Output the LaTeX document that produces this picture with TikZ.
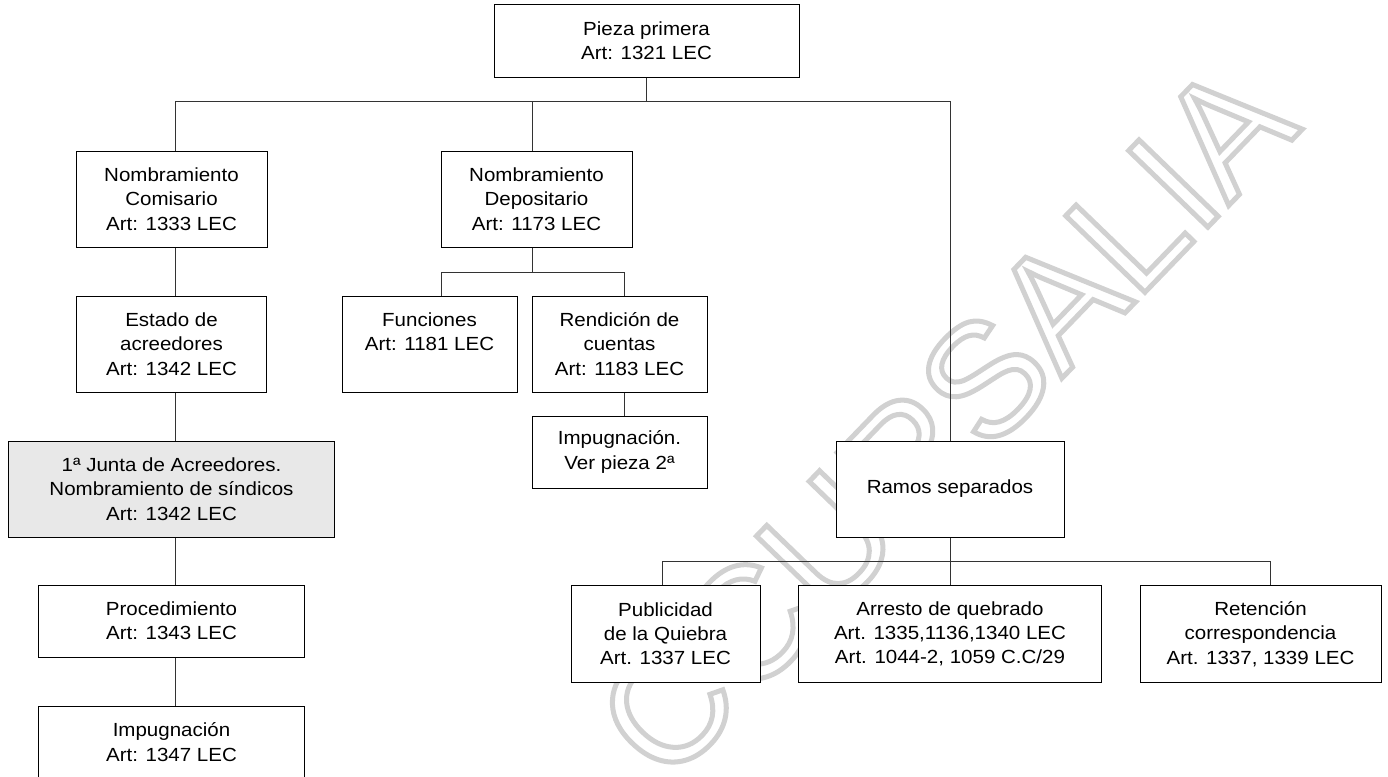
\documentclass[tikz,border=0pt]{standalone}
\usepackage{fontspec}
\setmainfont{Liberation Sans}[FakeStretch=1.08]
\newfontfamily\wmfont{Liberation Sans}
\newcommand\boxfont{\fontsize{19}{24.3}\selectfont}
\tikzset{
  box/.style={draw=black, line width=1pt, fill=white, align=center, inner sep=0pt, font=\boxfont, text=black},
  graybox/.style={box, fill=black!9},
  conn/.style={draw=black!80, line width=0.9pt},
  wm/.style={text=black!18, font=\wmfont\fontsize{160}{160}\selectfont, inner sep=0pt}
}
\begin{document}
\begin{tikzpicture}[x=1pt,y=-1pt]
\useasboundingbox (0,0) rectangle (1388,776);
% watermark
\node[wm, rotate=46] (wmark) at (945,420) {\special{pdf:literal direct 1 Tr 5 w}CCURSALIA\special{pdf:literal direct 0 Tr}};
% boxes
\node[box, minimum width=305pt, minimum height=72pt] (top) at (646.5,41) {Pieza primera\\Art: 1321 LEC};
\node[box, minimum width=191pt, minimum height=96pt] (com) at (171.5,199) {Nombramiento\\Comisario\\Art: 1333 LEC};
\node[box, minimum width=191pt, minimum height=96pt] (dep) at (536.5,199) {Nombramiento\\Depositario\\Art: 1173 LEC};
\node[box, minimum width=228pt, minimum height=96pt] (ramos) at (950,489) {Ramos separados};
\node[box, minimum width=190pt, minimum height=96pt] (est) at (171.5,344) {Estado de\\acreedores\\Art: 1342 LEC};
\node[box, minimum width=175pt, minimum height=96pt] (fun) at (429.5,344) {Funciones\\Art: 1181 LEC\\\mbox{}};
\node[box, minimum width=175pt, minimum height=96pt] (ren) at (619.5,344) {Rendición de\\cuentas\\Art: 1183 LEC};
\node[box, minimum width=175pt, minimum height=72pt] (imp2) at (619.5,452) {Impugnación.\\Ver pieza 2ª};
\node[graybox, minimum width=326pt, minimum height=96pt] (junta) at (171.5,489) {1ª Junta de Acreedores.\\Nombramiento de síndicos\\Art: 1342 LEC};
\node[box, minimum width=266pt, minimum height=72pt] (proc) at (171.5,621) {Procedimiento\\Art: 1343 LEC};
\node[box, minimum width=266pt, minimum height=72pt] (imp) at (171.5,742) {Impugnación\\Art: 1347 LEC};
\node[box, minimum width=189pt, minimum height=97pt] (pub) at (665.5,633.5) {Publicidad\\de la Quiebra\\Art. 1337 LEC};
\node[box, minimum width=303pt, minimum height=97pt] (arr) at (950,634) {Arresto de quebrado\\Art. 1335,1136,1340 LEC\\Art. 1044-2, 1059 C.C/29};
\node[box, minimum width=241pt, minimum height=97pt] (ret) at (1260.5,634) {Retención\\correspondencia\\Art. 1337, 1339 LEC};
% connectors
\draw[conn] (top.south) -- ++(0,24) coordinate (bus);
\draw[conn] ([xshift=3.5pt]com.north) |- (bus) -| (ramos.north);
\draw[conn] ([xshift=-4.5pt]dep.north) |- (bus);
\draw[conn] ([xshift=3.5pt]com.south) -- ([xshift=3.5pt]est.north);
\draw[conn] ([xshift=3.5pt]est.south) -- ([xshift=3.5pt]junta.north);
\draw[conn] ([xshift=3.5pt]junta.south) -- ([xshift=3.5pt]proc.north);
\draw[conn] ([xshift=3.5pt]proc.south) -- ([xshift=3.5pt]imp.north);
\draw[conn] ([xshift=-4.5pt]dep.south) -- ++(0,25) coordinate (dbus);
\draw[conn] ([xshift=11.5pt]fun.north) |- (dbus) -| ([xshift=4.5pt]ren.north);
\draw[conn] ([xshift=4.5pt]ren.south) -- ([xshift=4.5pt]imp2.north);
\draw[conn] (ramos.south) -- ++(0,24) coordinate (rbus);
\draw[conn] ([xshift=-3.5pt]pub.north) |- (rbus) -| ([xshift=9.5pt]ret.north);
\draw[conn] (rbus) -- (arr.north);
\end{tikzpicture}
\end{document}
